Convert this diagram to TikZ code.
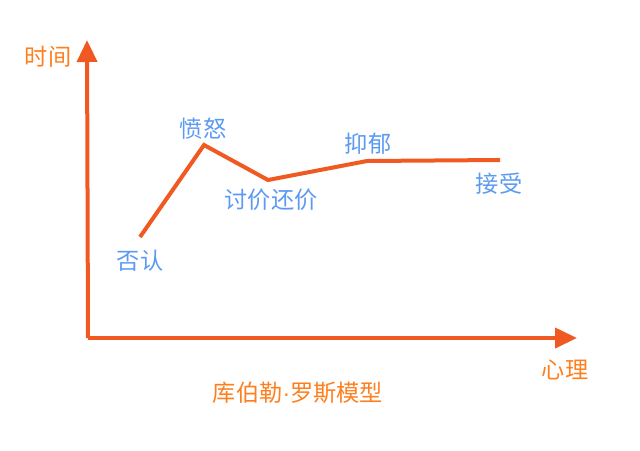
\documentclass[tikz,border=0pt]{standalone}
\usepackage{fontspec}
\setmainfont{Noto Sans CJK SC}
\newfontfamily\latinfont{Liberation Sans}
\usetikzlibrary{arrows.meta}
\definecolor{axisred}{HTML}{F05A22}
\definecolor{txtorange}{HTML}{FF7F1E}
\definecolor{txtblue}{HTML}{5C9AF2}
\begin{document}
\begin{tikzpicture}[x=0.5pt,y=-0.5pt,
  axis/.style={draw=axisred, line width=2pt, -{Triangle[length=11pt,width=10pt]}},
  stage/.style={text=txtblue, font=\fontsize{11.6}{14}\selectfont, inner sep=0pt},
  axislabel/.style={text=txtorange, font=\fontsize{11.6}{14}\selectfont, inner sep=0pt}]
\useasboundingbox (0,0) rectangle (640,450);
\coordinate (origin) at (88,338);
\coordinate (ytip) at (87,40);
\coordinate (xtip) at (577,338);
\draw[axis] (origin) -- (ytip);
\draw[axis] (origin) -- (xtip);
\node[axislabel] at (48,57)(time) {时间};
\node[axislabel] at (565,370)(mind) {心理};
\node[axislabel] at (298,393)(title) {库伯勒{\latinfont ·}罗斯模型};

\coordinate (p1) at (140,237);
\coordinate (p2) at (204,145);
\coordinate (p3) at (268,180);
\coordinate (p4) at (367,161);
\coordinate (p5) at (500,160);
\draw[axisred, line width=2pt] (p1) -- (p2) -- (p3) -- (p4) -- (p5);

\node[stage] at (140,261)(denial) {否认};
\node[stage] at (203,129)(anger) {愤怒};
\node[stage] at (271,200)(bargain) {讨价还价};
\node[stage] at (368,144)(depress) {抑郁};
\node[stage] at (499,184)(accept) {接受};
\end{tikzpicture}
\end{document}
